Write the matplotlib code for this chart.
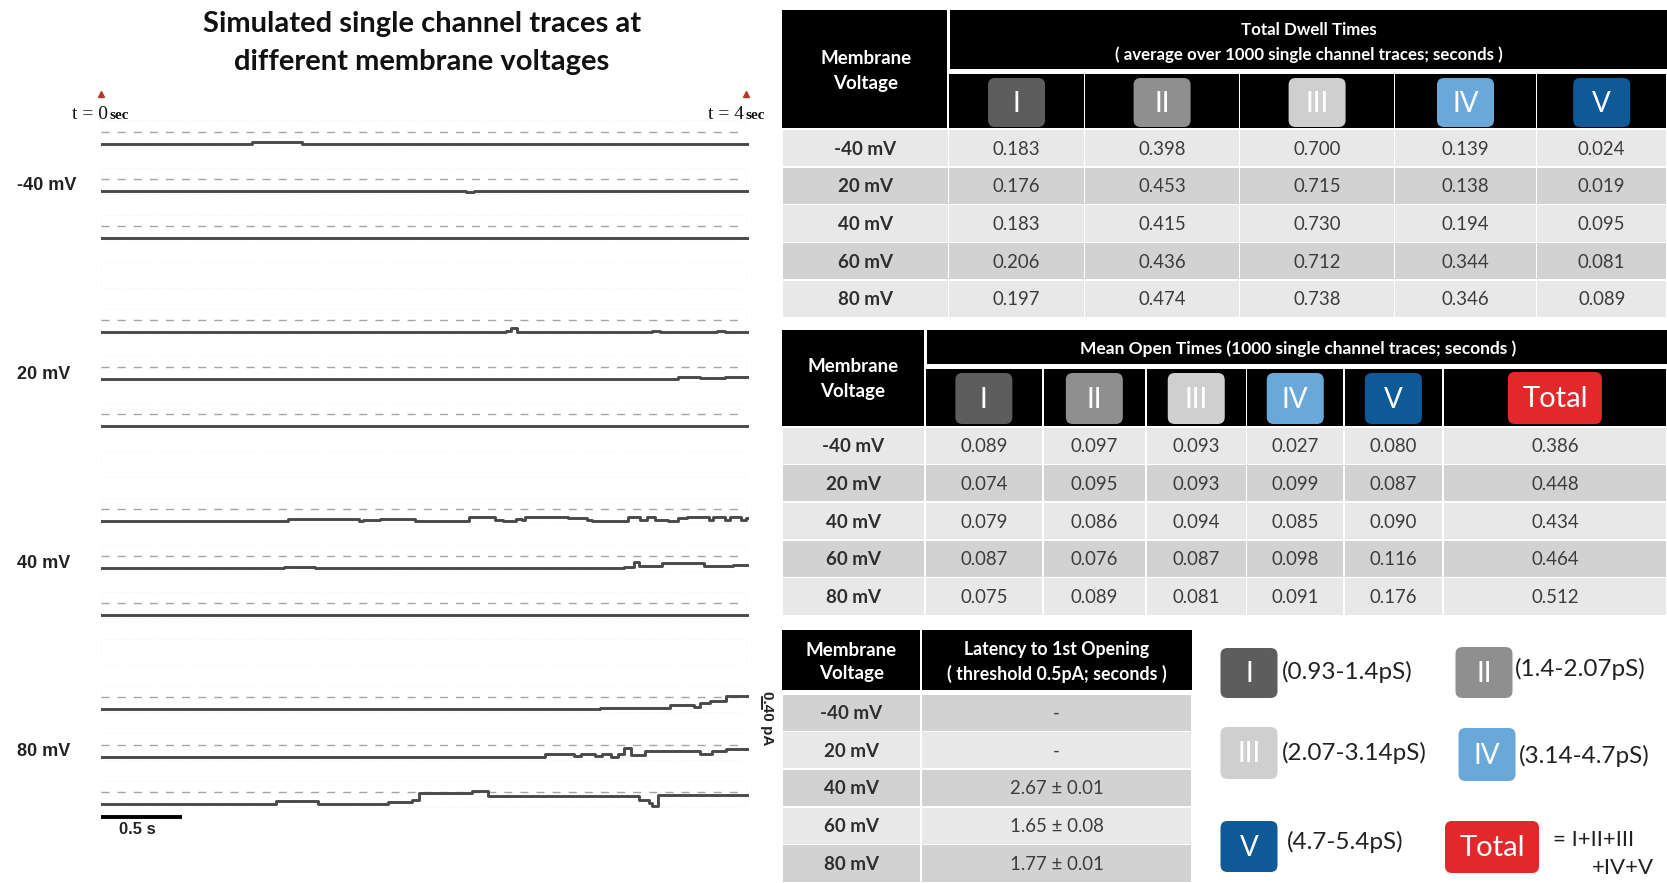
import numpy as np
import matplotlib
matplotlib.use("Agg")
import matplotlib.pyplot as plt
from matplotlib.patches import Rectangle, FancyBboxPatch

plt.rcParams["font.family"] = ["Lato", "DejaVu Sans"]

# ------------------------------------------------------------------ data
trace_voltages = ["-40 mV", "20 mV", "40 mV", "80 mV"]
DURATION = 4.0          # s, length of each sweep
OPEN_LEVEL = 0.40       # pA, dashed reference level

# each sweep: (step start times in s, current level in pA)
sweeps_m40 = [
    ([0, 0.93, 0.97, 1.20, 1.24], [0, 0.04, 0.06, 0.04, 0]),
    ([0, 2.25, 2.30], [0, -0.04, 0]),
    ([0], [0]),
]
sweeps_20 = [
    ([0, 2.50, 2.53, 2.57, 3.19, 3.40, 3.45, 3.80, 3.85],
     [0, 0.05, 0.15, 0, 0.02, 0.04, 0.02, 0.04, 0.02]),
    ([0, 3.56, 3.70, 3.85], [0, 0.08, 0.06, 0.08]),
    ([0], [0]),
]
sweeps_40 = [
    ([0, 1.155, 1.59, 1.62, 1.72, 1.94, 2.27, 2.43, 2.48, 2.56, 2.60, 2.62, 2.88,
      3.00, 3.03, 3.25, 3.33, 3.37, 3.42, 3.50, 3.56, 3.62, 3.75, 3.78, 3.85,
      3.88, 3.95, 3.98],
     [0, 0.05, 0.0, 0.03, 0.06, 0.0, 0.13, 0.04, 0.0, 0.07, 0.03, 0.13, 0.08,
      0.03, 0.0, 0.13, 0.02, 0.11, 0.03, 0.0, 0.10, 0.13, 0.03, 0.13, 0.03,
      0.13, 0.03, 0.10]),
    ([0, 1.13, 1.32, 3.23, 3.29, 3.32, 3.46, 3.72, 3.90],
     [0, 0.04, 0, 0.04, 0.20, 0.06, 0.16, 0.07, 0.11]),
    ([0], [0]),
]
sweeps_80 = [
    ([0, 3.08, 3.51, 3.66, 3.70, 3.76, 3.86],
     [0, 0.05, 0.16, 0.09, 0.20, 0.27, 0.44]),
    ([0, 2.74, 2.92, 2.96, 3.05, 3.09, 3.15, 3.19, 3.23, 3.27, 3.36, 3.70, 3.77, 3.86],
     [0, 0.07, 0.02, 0.07, 0.03, 0.07, -0.03, 0.07, 0.27, 0.06, 0.20, 0.10, 0.19, 0.25]),
    ([0, 1.08, 1.34, 1.77, 1.92, 1.96, 2.29, 2.39, 3.32, 3.38, 3.40, 3.44],
     [0, 0.09, -0.02, 0.05, 0.12, 0.37, 0.41, 0.26, 0.14, 0.02, -0.06, 0.30]),
]

table_voltages = ["-40 mV", "20 mV", "40 mV", "60 mV", "80 mV"]
state_labels = ["I", "II", "III", "IV", "V"]
state_colors = ["#5d5d5d", "#8f8f8f", "#cfcfcf", "#6aa8da", "#0f5a96"]
total_color = "#e3282b"

dwell_I = [0.183, 0.176, 0.183, 0.206, 0.197]
dwell_II = [0.398, 0.453, 0.415, 0.436, 0.474]
dwell_III = [0.700, 0.715, 0.730, 0.712, 0.738]
dwell_IV = [0.139, 0.138, 0.194, 0.344, 0.346]
dwell_V = [0.024, 0.019, 0.095, 0.081, 0.089]

open_I = [0.089, 0.074, 0.079, 0.087, 0.075]
open_II = [0.097, 0.095, 0.086, 0.076, 0.089]
open_III = [0.093, 0.093, 0.094, 0.087, 0.081]
open_IV = [0.027, 0.099, 0.085, 0.098, 0.091]
open_V = [0.080, 0.087, 0.090, 0.116, 0.176]
open_total = [0.386, 0.448, 0.434, 0.464, 0.512]

latency_mean = [None, None, 2.67, 1.65, 1.77]
latency_sem = [None, None, 0.01, 0.08, 0.01]

conductance_ranges = ["(0.93-1.4pS)", "(1.4-2.07pS)", "(2.07-3.14pS)",
                      "(3.14-4.7pS)", "(4.7-5.4pS)"]

# ------------------------------------------------------------------ figure
W, H = 1667, 883
fig = plt.figure(figsize=(W / 100, H / 100), dpi=100)
fig.patch.set_facecolor("white")
cv = fig.add_axes([0, 0, 1, 1])
cv.set_xlim(0, W)
cv.set_ylim(H, 0)
cv.axis("off")

LIGHT, DARK = "#e8e8e8", "#d2d2d2"
TXT = "#3c3c3c"


def rect(x0, y0, x1, y1, fc):
    cv.add_patch(Rectangle((x0, y0), x1 - x0, y1 - y0, fc=fc, ec="none", lw=0))


def badge(cx, y0, y1, w, color, label, fs=20):
    cv.add_patch(FancyBboxPatch((cx - w / 2, y0), w, y1 - y0,
                                boxstyle="round,pad=0,rounding_size=7",
                                fc=color, ec="none", lw=0))
    cv.text(cx, (y0 + y1) / 2 + 1, label, color="white", ha="center",
            va="center", fontsize=fs, fontweight="normal")


def ctext(x, y, s, fs=13.4, weight="normal", color=TXT):
    cv.text(x, y + 1, s, ha="center", va="center", fontsize=fs,
            fontweight=weight, color=color)


# ------------------------------------------------------------------ traces
PX_PER_PA = 30.0
ROW_PX = 47.16
BASE0_PX = 143.5
X0_PX, X1_PX = 101, 749
TOP_PX, BOT_PX = 80, 850
ax = fig.add_axes([X0_PX / W, 1 - BOT_PX / H, (X1_PX - X0_PX) / W,
                   (BOT_PX - TOP_PX) / H])
ax.set_xlim(0, DURATION)
ax.set_ylim(-(BOT_PX - BASE0_PX) / PX_PER_PA, (BASE0_PX - TOP_PX) / PX_PER_PA)
ax.axis("off")
ax.patch.set_alpha(0)


def ypa(px):
    return (BASE0_PX - px) / PX_PER_PA


row_step = ROW_PX / PX_PER_PA
groups = [sweeps_m40, sweeps_20, sweeps_40, sweeps_80]
for g, sweeps in enumerate(groups):
    n_rows = 4 if g < len(groups) - 1 else 3
    for k in range(n_rows):
        base = -(g * 4 + k) * row_step
        ax.add_patch(Rectangle((0, base - 0.1), 3.98, 0.87, fill=False,
                               ec="#f1f1f1", lw=0.6, ls=":"))
        if k == 3:
            continue
        times, levels = sweeps[k]
        t = list(times) + [DURATION]
        cur = np.array(list(levels) + [levels[-1]])
        ax.plot([0, 3.95], [base + OPEN_LEVEL] * 2, color="#a5a5a5", lw=1.0,
                ls=(0, (5.8, 5.8)))
        ax.step(t, base + cur, where="post", color="#4a4a4a", lw=2.1)
    ax.text(-0.52, -(g * 4 + 1) * row_step + 0.16, trace_voltages[g],
            ha="left", va="center", fontsize=13, fontweight="bold",
            family="Liberation Sans", color="#222222")

# time scale bar
ax.plot([0, 0.5], [ypa(816.5)] * 2, color="black", lw=2.8,
        solid_capstyle="butt", clip_on=False)
ax.text(0.225, ypa(829), "0.5 s", ha="center", va="center", fontsize=12,
        fontweight="bold", family="Liberation Sans", color="#222222")

# current scale bar
base12 = -12 * row_step
ax.plot([4.08, 4.08], [base12, base12 + OPEN_LEVEL], color="black", lw=1.2,
        clip_on=False)
cv.text(767, 718, "0.40 pA", rotation=-90, ha="center", va="center",
        fontsize=11, fontweight="bold", family="Liberation Sans", color="#222222")

# sweep start / end markers
ax.plot([0, 3.98], [ypa(94)] * 2, ls="none", marker="^", ms=4,
        color="#b03a2e", clip_on=False)
for x_right, num in [(108, "0"), (744, "4")]:
    cv.text(x_right, 119, "t = " + num, ha="right", va="baseline",
            fontsize=14, family="Liberation Serif", color="#111111")
    cv.text(x_right + 2, 119, "sec", ha="left", va="baseline", fontsize=11,
            fontweight="bold", family="Liberation Serif", color="#111111")

cv.text(422, 24, "Simulated single channel traces at", ha="center",
        va="center", fontsize=21, fontweight="bold", color="#111111")
cv.text(422, 62, "different membrane voltages", ha="center", va="center",
        fontsize=21, fontweight="bold", color="#111111")

# ------------------------------------------------------------------ table 1
T1 = [782, 948.5, 1084.6, 1239.6, 1394.6, 1536.4, 1667]
rect(782, 10, 947, 127.5, "black")
rect(950, 10, 1667, 68.5, "black")
for j in range(1, len(T1) - 1):
    rect(T1[j] + 0.8, 74, T1[j + 1] - 0.8, 128, "black")
ctext(866, 57, "Membrane", fs=13.5, weight="bold", color="white")
ctext(866, 82, "Voltage", fs=13.5, weight="bold", color="white")
ctext(1309, 29, "Total Dwell Times", fs=12.2, weight="bold", color="white")
ctext(1309, 54, "( average over 1000 single channel traces; seconds )",
      fs=12.2, weight="bold", color="white")
dwell_cols = [dwell_I, dwell_II, dwell_III, dwell_IV, dwell_V]
for j in range(5):
    cx = (T1[j + 1] + T1[j + 2]) / 2
    badge(cx, 78, 127, 57, state_colors[j], state_labels[j])
for r in range(5):
    top = 130 + r * 37.7
    fill = LIGHT if r % 2 == 0 else DARK
    for j in range(len(T1) - 1):
        rect(T1[j] + 0.8, top, T1[j + 1] - 0.8, top + 36.2, fill)
    cy = top + 18.1
    ctext((T1[0] + T1[1]) / 2, cy, table_voltages[r], fs=13.5, weight="bold",
          color="#2e2e2e")
    for j in range(5):
        ctext((T1[j + 1] + T1[j + 2]) / 2, cy, f"{dwell_cols[j][r]:.3f}")

# ------------------------------------------------------------------ table 2
T2 = [782, 925, 1042.7, 1146, 1246.5, 1344, 1442.8, 1667]
rect(782, 330, 923.5, 425.5, "black")
rect(926.5, 330, 1667, 363.5, "black")
for j in range(1, len(T2) - 1):
    rect(T2[j] + 0.8, 369, T2[j + 1] - 0.8, 425.5, "black")
ctext(853, 366, "Membrane", fs=13.5, weight="bold", color="white")
ctext(853, 391, "Voltage", fs=13.5, weight="bold", color="white")
ctext(1298, 348, "Mean Open Times (1000 single channel traces; seconds )",
      fs=12.5, weight="bold", color="white")
open_cols = [open_I, open_II, open_III, open_IV, open_V, open_total]
for j in range(5):
    cx = (T2[j + 1] + T2[j + 2]) / 2
    badge(cx, 373, 424, 57, state_colors[j], state_labels[j])
badge((T2[6] + T2[7]) / 2, 372, 424, 94, total_color, "Total", fs=21)
for r in range(5):
    top = 427.5 + r * 37.7
    fill = LIGHT if r % 2 == 0 else DARK
    for j in range(len(T2) - 1):
        rect(T2[j] + 0.8, top, T2[j + 1] - 0.8, top + 36.2, fill)
    cy = top + 18.1
    ctext((T2[0] + T2[1]) / 2, cy, table_voltages[r], fs=13.5, weight="bold",
          color="#2e2e2e")
    for j in range(6):
        ctext((T2[j + 1] + T2[j + 2]) / 2, cy, f"{open_cols[j][r]:.3f}")

# ------------------------------------------------------------------ table 3
T3 = [782, 921, 1192]
rect(782, 630, 920.2, 690, "black")
rect(921.8, 630, 1192, 690, "black")
ctext(851.5, 649, "Membrane", fs=13.5, weight="bold", color="white")
ctext(851.5, 673, "Voltage", fs=13.5, weight="bold", color="white")
ctext(1057, 649, "Latency to 1st Opening", fs=12.8, weight="bold", color="white")
ctext(1057, 673, "( threshold 0.5pA; seconds )", fs=12.8, weight="bold",
      color="white")
for r in range(5):
    top = 694.5 + r * 37.7
    fill = DARK if r % 2 == 0 else LIGHT
    for j in range(len(T3) - 1):
        rect(T3[j] + 0.8, top, T3[j + 1] - 0.8, top + 36.2, fill)
    cy = top + 18.1
    ctext((T3[0] + T3[1]) / 2, cy, table_voltages[r], fs=13.5, weight="bold",
          color="#2e2e2e")
    if latency_mean[r] is None:
        s = "-"
    else:
        s = f"{latency_mean[r]:.2f} \u00b1 {latency_sem[r]:.2f}"
    ctext((T3[1] + T3[2]) / 2, cy, s)

# ------------------------------------------------------------------ legend
legend_slots = [  # badge centre x, badge top, badge bottom, text x, text y
    (1249, 648, 698, 1282, 672),
    (1484, 647, 698, 1515, 669),
    (1249, 727, 779, 1282, 753),
    (1487, 728, 781, 1519, 756),
    (1249, 821, 872, 1287, 842),
]
for j, (bx, y0, y1, tx, ty) in enumerate(legend_slots):
    badge(bx, y0, y1, 57, state_colors[j], state_labels[j])
    cv.text(tx, ty, conductance_ranges[j], ha="left", va="center",
            fontsize=17.5, color="#222222")
badge(1492, 821, 873, 94, total_color, "Total", fs=21)
cv.text(1553, 840, "= I+II+III", ha="left", va="center", fontsize=16,
        color="#222222")
cv.text(1654, 868, "+IV+V", ha="right", va="center", fontsize=16,
        color="#222222")

fig.savefig("out.png", dpi=100, facecolor="white")
